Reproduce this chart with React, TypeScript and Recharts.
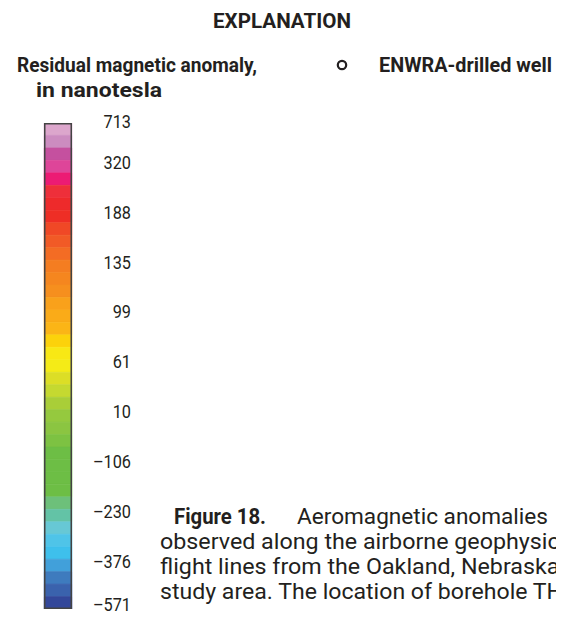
import React from "react";
import { BarChart, Bar, XAxis, YAxis } from "recharts";

// colour bands of the scale, top (highest) to bottom (lowest)
const bandColors = [
  "#DCA6CC", "#CC8CC0", "#C5509F", "#DE4599", "#EC1B74",
  "#EE2F3A", "#EE2A2B", "#EE2E25", "#F04826", "#F15A26",
  "#F36C24", "#F47D21", "#F5861F", "#F68F1E", "#F9A11B",
  "#FAAB18", "#FBB516", "#FCD20B", "#F8E815", "#F4EB17",
  "#DCDE26", "#C5D930", "#A9CE38", "#95C93E", "#8BC541",
  "#7DC242", "#6DBE45", "#6DBE45", "#6DBE45", "#6DBE45",
  "#6DC07A", "#63C3A6", "#67C8D5", "#4FC4E8", "#3EC0EC",
  "#41A0DA", "#3E7BBE", "#3A62AD", "#33479A",
];

// labels (nanotesla) and the band boundary each one sits on
const tickLabels = ["713", "320", "188", "135", "99", "61", "10", "\u2013106", "\u2013230", "\u2013376", "\u2013571"];
const tickBounds = [0, 3, 7, 11, 15, 19, 23, 27, 31, 35, 39];

const FONT = "Roboto, 'Liberation Sans', sans-serif";
const INK = "#231f20";

// one stacked column, one unit per band
const row: Record<string, any> = { name: "scale" };
bandColors.forEach((c, i) => {
  row["b" + i] = 1;
});
const data = [row];

function LabelTick(props: any) {
  const { x, y, payload } = props;
  const i = tickBounds.indexOf(payload.value);
  // end labels are pulled inside the bar a little
  let dy = 8.5;
  if (i === 0) dy = 4.5;
  if (i === tickBounds.length - 1) dy = 1.5;
  return (
    <text
      transform={`translate(${x + 51},${y + dy}) scale(0.88,1)`}
      textAnchor="end"
      fontFamily={FONT}
      fontSize={18.5}
      fill={INK}
    >
      {tickLabels[i]}
    </text>
  );
}

export default function App() {
  return (
    <div style={{ position: "relative", margin: -8, width: 564, height: 620, overflow: "hidden", background: "#fff" }}>
      <div style={{ position: "absolute", left: 0, top: 0 }}>
        <BarChart
          width={150}
          height={620}
          data={data}
          barCategoryGap={0}
          margin={{ top: 123, bottom: 11, left: 44, right: 0 }}
        >
          <XAxis dataKey="name" hide />
          <YAxis
            type="number"
            orientation="right"
            domain={[0, 39]}
            reversed
            allowDataOverflow
            ticks={tickBounds}
            interval={0}
            width={78}
            axisLine={false}
            tickLine={false}
            tick={<LabelTick />}
          />
          {bandColors.map((c, i) => (
            <Bar key={i} dataKey={"b" + i} stackId="scale" fill={c} stroke={c} strokeWidth={0.6} isAnimationActive={false} />
          ))}
        </BarChart>
      </div>

      <svg width={564} height={620} style={{ position: "absolute", left: 0, top: 0, pointerEvents: "none" }} fontFamily={FONT} fill={INK}>
        <rect x={44.75} y={123.75} width={26.5} height={484.5} fill="none" stroke="#444" strokeWidth={1.5} />

        <text x={282} y={28} textAnchor="middle" fontSize={21} fontWeight="bold" textLength={138} lengthAdjust="spacingAndGlyphs">
          EXPLANATION
        </text>
        <text x={17} y={72} fontSize={21} fontWeight="bold" textLength={240} lengthAdjust="spacingAndGlyphs">
          Residual magnetic anomaly,
        </text>
        <text x={36} y={97} fontSize={21} fontWeight="bold" textLength={126} lengthAdjust="spacingAndGlyphs">
          in nanotesla
        </text>
        <circle cx={342} cy={65} r={4.2} fill="none" stroke={INK} strokeWidth={2.2} />
        <text x={379} y={72} fontSize={21} fontWeight="bold" textLength={173} lengthAdjust="spacingAndGlyphs">
          ENWRA-drilled well
        </text>

        <text x={174} y={524} fontSize={22} fontWeight="bold" textLength={92} lengthAdjust="spacingAndGlyphs">
          Figure 18.
        </text>
        <text x={297} y={524} fontSize={22} textLength={251} lengthAdjust="spacingAndGlyphs">
          Aeromagnetic anomalies
        </text>
        <text x={160} y={549} fontSize={22} textLength={418} lengthAdjust="spacingAndGlyphs">
          observed along the airborne geophysical
        </text>
        <text x={160} y={574} fontSize={22} textLength={404} lengthAdjust="spacingAndGlyphs">
          flight lines from the Oakland, Nebraska,
        </text>
        <text x={160} y={599} fontSize={22} textLength={403} lengthAdjust="spacingAndGlyphs">
          study area. The location of borehole TH
        </text>
      </svg>
    </div>
  );
}
